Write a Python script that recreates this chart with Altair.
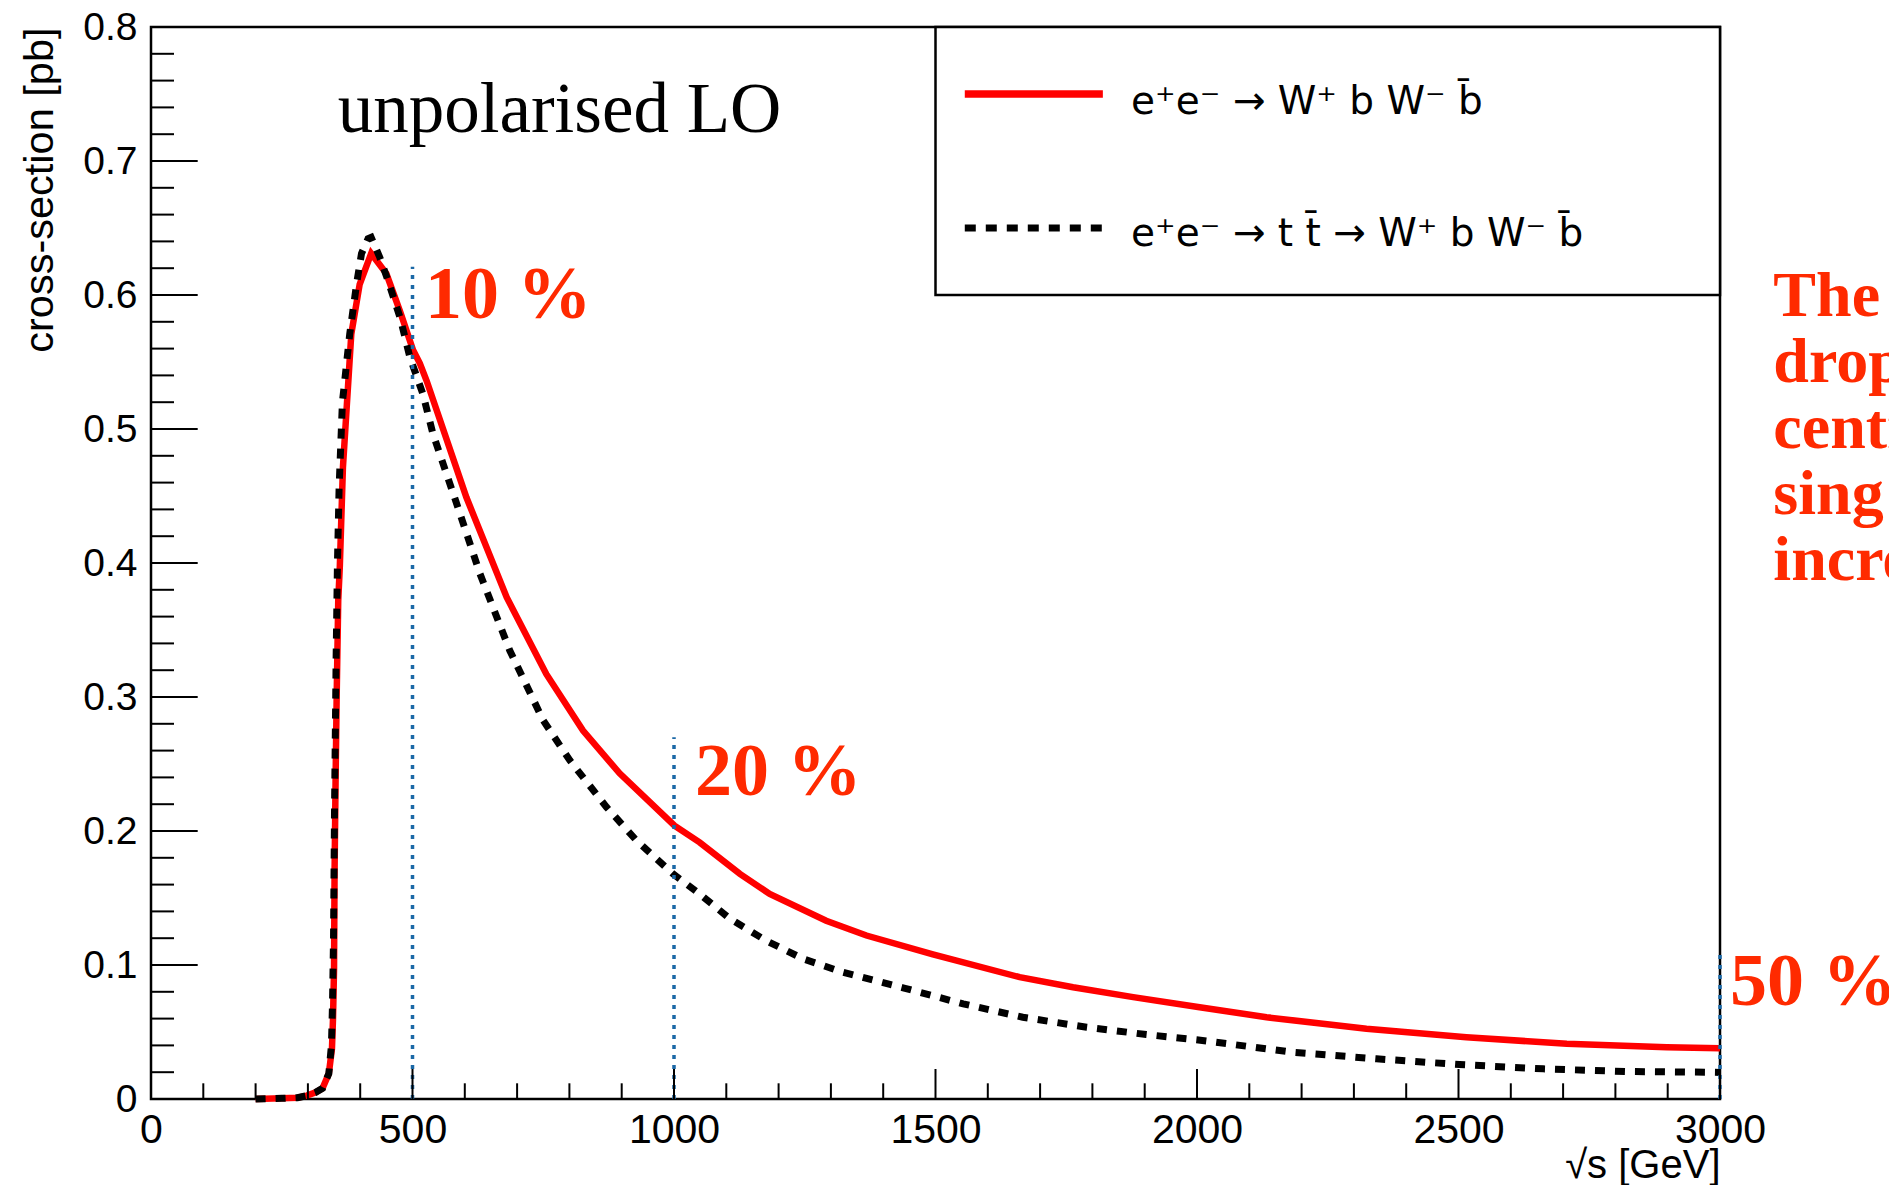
import altair as alt
import pandas as pd

# ---- data ----
red_s = [200, 250, 280, 298, 315, 328, 340, 346, 348, 350, 351, 353, 355, 358, 361, 367,
         383, 399, 421, 450, 476, 501, 514, 527, 603, 680, 756, 826, 896, 1001, 1049, 1126,
         1183, 1291, 1368, 1495, 1661, 1763, 1878, 2005, 2133, 2324, 2515, 2707, 2898, 3000]
red_v = [0.0, 0.0005, 0.001, 0.0025, 0.005, 0.008, 0.019, 0.0375, 0.06, 0.0975, 0.17, 0.24,
         0.30, 0.372, 0.397, 0.4715, 0.571, 0.608, 0.631, 0.616, 0.588, 0.559, 0.549, 0.536,
         0.449, 0.3745, 0.317, 0.275, 0.243, 0.204, 0.1915, 0.168, 0.153, 0.133, 0.122,
         0.108, 0.0909, 0.0834, 0.076, 0.0685, 0.061, 0.0524, 0.0461, 0.0412, 0.0387, 0.0379]

blk_s = [200, 250, 280, 298, 315, 328, 340, 345, 347, 349, 351, 354, 356.5, 359.7, 366, 380,
         393, 402.5, 415, 421, 437.5, 453, 476, 495, 520, 539, 578, 629, 686, 750, 801, 871,
         928, 998, 1049, 1107, 1177, 1247, 1323, 1438, 1553, 1667, 1789, 1903, 1999, 2184,
         2343, 2502, 2662, 2821, 2974, 3000]
blk_v = [0.0, 0.0005, 0.001, 0.0025, 0.005, 0.008, 0.019, 0.04, 0.07, 0.12, 0.22, 0.33, 0.40,
         0.4566, 0.52, 0.571, 0.608, 0.631, 0.642, 0.643, 0.628, 0.611, 0.5835, 0.5536, 0.526,
         0.4965, 0.4517, 0.392, 0.3347, 0.2825, 0.2526, 0.2178, 0.193, 0.168, 0.153, 0.1345,
         0.118, 0.1046, 0.0946, 0.083, 0.071, 0.061, 0.0536, 0.0481, 0.0442, 0.0349, 0.030,
         0.0257, 0.0225, 0.0205, 0.020, 0.0198]

vline_s = [500, 1000, 3000]
vline_top = [0.621, 0.270, 0.108]

pct_labels = ["10 %", "20 %", "50 %"]
pct_s = [524, 1040, 3019]
pct_v = [0.5825, 0.2265, 0.0698]

x_major = [0, 500, 1000, 1500, 2000, 2500, 3000]
y_major = [0, 0.1, 0.2, 0.3, 0.4, 0.5, 0.6, 0.7, 0.8]
x_minor = [v for v in range(0, 3001, 100) if v % 500 != 0]
y_minor = [round(i * 0.02, 2) for i in range(41) if i % 5 != 0]

legend_labels = ["e\u207ae\u207b \u2192 W\u207a b W\u207b b\u0304",
                 "e\u207ae\u207b \u2192 t t\u0304 \u2192 W\u207a b W\u207b b\u0304"]

side_text = "The\ndrop\ncentr\nsing\nincre"

# ---- chart ----
W, H = 1569, 1072
xs = alt.Scale(domain=[0, 3000], nice=False, zero=False)
ys = alt.Scale(domain=[0, 0.8], nice=False, zero=False)
SANS = "Liberation Sans"
SERIF = "Liberation Serif"
ORANGE = "#ff2a00"
BLUE = "#1b68a6"

x_axis = alt.Axis(values=x_major, ticks=False, tickSize=0, domain=False, grid=False,
                  labelFont=SANS, labelFontSize=41, labelPadding=11, labelFlush=False,
                  labelOverlap=False, labelColor="black", format="d",
                  title="\u221as [GeV]", titleFont=SANS, titleFontSize=40,
                  titleFontWeight="normal", titleColor="black", titleAnchor="end",
                  titleAlign="right", titleX=W, titleY=78, titleBaseline="alphabetic")
y_axis = alt.Axis(values=y_major, ticks=False, tickSize=0, domain=False, grid=False,
                  labelFont=SANS, labelFontSize=39, labelPadding=14, labelFlush=False,
                  labelOverlap=False, labelColor="black", format="~g",
                  title="cross-section [pb]", titleFont=SANS, titleFontSize=41.5,
                  titleFontWeight="normal", titleColor="black", titleAnchor="end",
                  titleAngle=270, titleAlign="right", titleX=-111, titleY=0,
                  titleBaseline="middle")


def X(f):
    return alt.X(f, scale=xs, axis=x_axis)


def Y(f):
    return alt.Y(f, scale=ys, axis=y_axis)


red_df = pd.DataFrame({"s": red_s, "v": red_v})
blk_df = pd.DataFrame({"s": blk_s, "v": blk_v})

red_line = alt.Chart(red_df).mark_line(color="#ff0000", strokeWidth=6.5).encode(
    x=X("s:Q"), y=Y("v:Q"))
blk_line = alt.Chart(blk_df).mark_line(color="black", strokeWidth=7,
                                       strokeDash=[10, 10]).encode(
    x=X("s:Q"), y=Y("v:Q"))

vl_df = pd.DataFrame({"s": vline_s, "top": vline_top, "bot": [0] * len(vline_s)})
vlines = alt.Chart(vl_df).mark_rule(color=BLUE, strokeWidth=3.5, strokeDash=[4, 6]).encode(
    x=X("s:Q"), y=Y("bot:Q"), y2="top:Q")

pct_df = pd.DataFrame({"s": pct_s, "v": pct_v, "t": pct_labels})
pct = alt.Chart(pct_df).mark_text(font=SERIF, fontWeight="bold", fontSize=74, color=ORANGE,
                                  align="left", baseline="alphabetic").encode(
    x=X("s:Q"), y=Y("v:Q"), text="t:N")

side_df = pd.DataFrame({"s": [3102], "v": [0.584], "t": [side_text]})
side = alt.Chart(side_df).mark_text(font=SERIF, fontWeight="bold", fontSize=64, color=ORANGE,
                                    align="left", baseline="alphabetic", lineBreak="\n",
                                    lineHeight=66).encode(
    x=X("s:Q"), y=Y("v:Q"), text="t:N")

title_df = pd.DataFrame({"s": [357], "v": [0.722], "t": ["unpolarised LO"]})
title_txt = alt.Chart(title_df).mark_text(font=SERIF, fontSize=71, color="black",
                                          align="left", baseline="alphabetic").encode(
    x=X("s:Q"), y=Y("v:Q"), text="t:N")

# legend box
box_df = pd.DataFrame({"x1": [1500], "x2": [3000], "y1": [0.6], "y2": [0.8]})
box = alt.Chart(box_df).mark_rect(fill="white", stroke="black", strokeWidth=2.5).encode(
    x=X("x1:Q"), x2="x2:Q", y=Y("y1:Q"), y2="y2:Q")
leg_red = alt.Chart(pd.DataFrame({"a": [1556], "b": [1820], "y": [0.75]})).mark_rule(
    color="#ff0000", strokeWidth=7.5).encode(x=X("a:Q"), x2="b:Q", y=Y("y:Q"))
leg_blk = alt.Chart(pd.DataFrame({"a": [1556], "b": [1820], "y": [0.65]})).mark_rule(
    color="black", strokeWidth=7, strokeDash=[11, 10]).encode(x=X("a:Q"), x2="b:Q", y=Y("y:Q"))
leg_txt_df = pd.DataFrame({"s": [1874, 1874], "v": [0.7353, 0.6365], "t": legend_labels})
leg_txt = alt.Chart(leg_txt_df).mark_text(font="DejaVu Sans", fontSize=39, color="black",
                                          align="left", baseline="alphabetic").encode(
    x=X("s:Q"), y=Y("v:Q"), text="t:N")

# inward ticks (ROOT style)
xmaj = alt.Chart(pd.DataFrame({"t": x_major})).mark_rule(color="black", strokeWidth=2).encode(
    x=X("t:Q"), y=alt.value(H), y2=alt.value(H - 30))
xmin = alt.Chart(pd.DataFrame({"t": x_minor})).mark_rule(color="black", strokeWidth=2).encode(
    x=X("t:Q"), y=alt.value(H), y2=alt.value(H - 15.7))
ymaj = alt.Chart(pd.DataFrame({"t": y_major})).mark_rule(color="black", strokeWidth=2).encode(
    y=Y("t:Q"), x=alt.value(0), x2=alt.value(46.7))
ymin = alt.Chart(pd.DataFrame({"t": y_minor})).mark_rule(color="black", strokeWidth=2).encode(
    y=Y("t:Q"), x=alt.value(0), x2=alt.value(23))

chart = alt.layer(
    red_line, blk_line, vlines, xmaj, xmin, ymaj, ymin,
    box, leg_red, leg_blk, leg_txt, title_txt, pct, side,
).properties(
    width=W, height=H,
    padding={"left": 143, "top": 19, "right": 169, "bottom": 86},
    autosize=alt.AutoSizeParams(type="none"),
    background="white",
).configure_view(stroke="black", strokeWidth=2.5)

chart.save("out.html", embed_options={"renderer": "svg", "actions": False})
